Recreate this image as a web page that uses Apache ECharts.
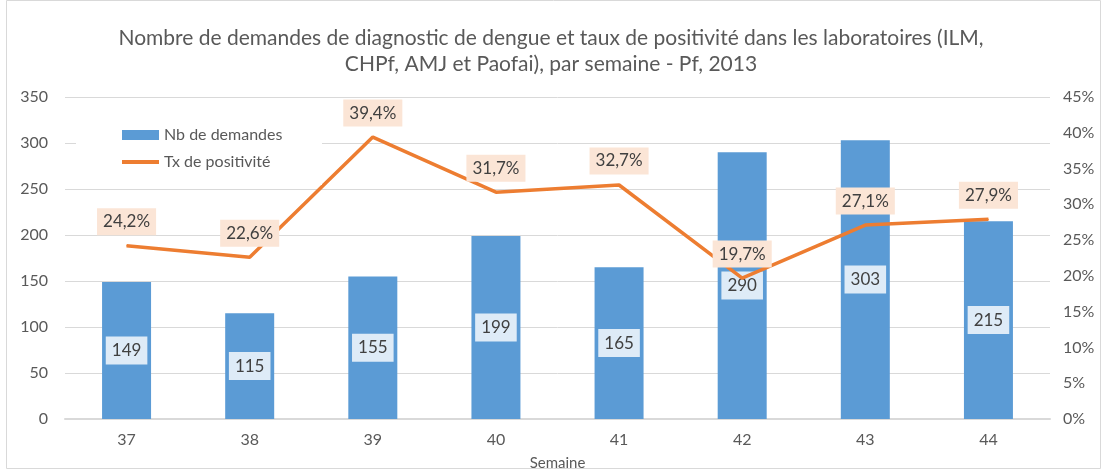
<!DOCTYPE html>
<html><head><meta charset="utf-8">
<script src="https://cdn.jsdelivr.net/npm/echarts@6/dist/echarts.min.js"></script>
<style>html,body{margin:0;padding:0;background:#fff;overflow:hidden}#c{width:1102px;height:470px}</style>
</head><body><div id="c"></div>
<script>
const categories = ['37','38','39','40','41','42','43','44'];
const demandes = [149,115,155,199,165,290,303,215];
const positivite = [24.2,22.6,39.4,31.7,32.7,19.7,27.1,27.9];
const titleLines = ['Nombre de demandes de diagnostic de dengue et taux de positivité dans les laboratoires (ILM,','CHPf, AMJ et Paofai), par semaine - Pf, 2013'];
const FONT = 'Lato';
const chart = echarts.init(document.getElementById('c'));
const titleStyle = {fontFamily:FONT,fontSize:21,fontWeight:'normal',color:'#595959'};
chart.setOption({
  animation:false,
  textStyle:{fontFamily:FONT},
  graphic:[
    {type:'rect',shape:{x:6.5,y:0.5,width:1094,height:468},style:{fill:'none',stroke:'#d9d9d9',lineWidth:1},z:0},
    {type:'rect',shape:{x:76,y:103,width:246,height:82},style:{fill:'#fff'},z:5}
  ],
  title:[
    {text:titleLines[0],left:'center',top:23,textStyle:titleStyle},
    {text:titleLines[1],left:'center',top:49,textStyle:titleStyle}
  ],
  legend:{orient:'vertical',left:117,top:122,itemGap:11,itemWidth:37,itemHeight:10,z:10,
    textStyle:{fontFamily:FONT,fontSize:16,color:'#595959'},
    data:[{name:'Nb de demandes',icon:'rect'},{name:'Tx de positivité',icon:'path://M0,3H37V7H0Z',itemStyle:{color:'#ed7d31'}}]},
  grid:{left:65,right:52,top:97,bottom:51,containLabel:false,outerBoundsMode:'none'},
  xAxis:{type:'category',data:categories,name:'Semaine',nameLocation:'middle',nameGap:37,
    nameTextStyle:{fontFamily:FONT,fontSize:15,color:'#595959'},
    axisLine:{lineStyle:{color:'#d9d9d9',width:2}},axisTick:{show:false},
    axisLabel:{fontFamily:FONT,fontSize:16,color:'#595959',margin:13}},
  yAxis:[
    {type:'value',min:0,max:350,interval:50,axisLine:{show:false},axisTick:{show:false},
     splitLine:{lineStyle:{color:'#d9d9d9',width:1}},
     axisLabel:{fontFamily:FONT,fontSize:16,color:'#595959',margin:17}},
    {type:'value',min:0,max:45,interval:5,axisLine:{show:false},axisTick:{show:false},splitLine:{show:false},
     axisLabel:{fontFamily:FONT,fontSize:16,color:'#595959',margin:13,formatter:'{value}%'}}
  ],
  series:[
    {name:'Nb de demandes',type:'bar',data:demandes,barWidth:49,itemStyle:{color:'#5b9bd5'},z:2,
     label:{show:true,position:'inside',fontFamily:FONT,fontSize:17,color:'#404040',
       backgroundColor:'#deebf7',padding:[6,6,5,6]}},
    {name:'Tx de positivité',type:'line',yAxisIndex:1,data:positivite,symbol:'circle',symbolSize:1,showSymbol:true,
     lineStyle:{color:'#ed7d31',width:3.5},itemStyle:{color:'#ed7d31'},z:3,
     label:{show:true,position:'top',distance:10,fontFamily:FONT,fontSize:17,color:'#404040',
       backgroundColor:'#fbe5d6',padding:[5,6,5,6],
       formatter:p=>p.value.toFixed(1).replace('.',',')+'%'}}
  ]
});
</script></body></html>
